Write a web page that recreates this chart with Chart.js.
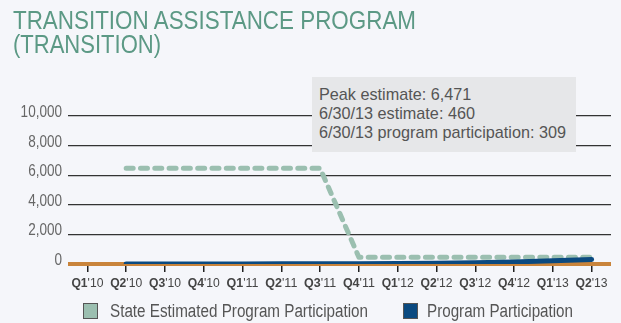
<!DOCTYPE html>
<html>
<head>
<meta charset="utf-8">
<script src="https://cdn.jsdelivr.net/npm/chart.js@4.4.1/dist/chart.umd.min.js"></script>
<style>
html, body { margin:0; padding:0; background:#f5f6fa; }
body { width:621px; height:323px; position:relative; overflow:hidden;
  font-family:"Liberation Sans",sans-serif; }
.fit { display:inline-block; white-space:nowrap; transform-origin:left top; }
#title { position:absolute; left:13px; top:8px; color:#5c9985; font-size:26.5px; line-height:24px; }
#note { position:absolute; left:312px; top:77px; width:264px; height:75px; background:#e6e7e9;
  color:#555; font-size:17px; line-height:19px; box-sizing:border-box; padding:8px 0 0 7px; }
#legend { position:absolute; top:303px; left:0; width:621px; color:#555; font-size:18px; line-height:16px; }
.item { position:absolute; top:0; white-space:nowrap; }
.sw { position:absolute; top:0; width:13px; height:14px; border:1px solid #555; }
#wrap { position:absolute; left:0; top:0; width:621px; height:323px; }
</style>
</head>
<body>
<div id="wrap"><canvas id="chart" width="621" height="323"></canvas></div>
<div id="title"><span class="fit" data-w="403">TRANSITION ASSISTANCE PROGRAM</span><br><span class="fit" data-w="148">(TRANSITION)</span></div>
<div id="note"><span class="fit" data-w="247">Peak estimate: 6,471<br>6/30/13 estimate: 460<br>6/30/13 program participation: 309</span></div>
<div id="legend"></div>
<script>

// quarters on the x axis
const quarters = ["Q1'10","Q2'10","Q3'10","Q4'10","Q1'11","Q2'11","Q3'11",
  "Q4'11","Q1'12","Q2'12","Q3'12","Q4'12","Q1'13","Q2'13"];

// state estimate (dashed) and actual participation
const stateEstimate = [null,6471,6471,6471,6471,6471,6471,460,460,460,460,460,460,460];
const participation = [null,0,2,5,8,12,18,25,35,50,80,140,220,309];

const yTicks = [0,2000,4000,6000,8000,10000];

const seriesNames = ["State Estimated Program Participation","Program Participation"];
const seriesColors = ["#9bbfb0","#0b4a80"];
const axisOrange = "#c9843b";

// legend
const legend = document.getElementById("legend");
const legendBox = [83, 403];
const legendText = [110, 427];
const legendTextW = [258, 146];
seriesNames.forEach(function(name, i){
  const sw = document.createElement("div");
  sw.className = "item sw";
  sw.style.left = legendBox[i] + "px";
  sw.style.background = seriesColors[i];
  legend.appendChild(sw);
  const item = document.createElement("div");
  item.className = "item";
  item.style.left = legendText[i] + "px";
  item.innerHTML = '<span class="fit" data-w="' + legendTextW[i] + '">' + name + '</span>';
  legend.appendChild(item);
});

// squeeze html text to a narrow face
document.querySelectorAll(".fit").forEach(function(el){
  const w = el.getBoundingClientRect().width;
  el.style.transform = "scaleX(" + (el.dataset.w / w) + ")";
});

// axis labels drawn with a condensed squeeze
const axisLabels = {
  id: "axisLabels",
  afterDraw(chart){
    const x = chart.scales.x, y = chart.scales.y;
    const c = chart.ctx;
    const bold = "bold 13px 'Liberation Sans', sans-serif";
    const reg = "13px 'Liberation Sans', sans-serif";
    c.save();
    c.fillStyle = "#444";
    c.textBaseline = "alphabetic";
    c.textAlign = "left";
    quarters.forEach(function(q, i){
      const a = q.slice(0,2), b = q.slice(2);
      c.font = bold; const wa = c.measureText(a).width;
      c.font = reg; const wb = c.measureText(b).width;
      c.save();
      c.translate(x.getPixelForTick(i), 287);
      c.scale(32 / (wa + wb), 1);
      const px = -(wa + wb) / 2;
      c.font = bold; c.fillText(a, px, 0);
      c.font = reg; c.fillText(b, px + wa, 0);
      c.restore();
    });
    c.fillStyle = "#666";
    c.font = "16.5px 'Liberation Sans', sans-serif";
    c.textAlign = "right";
    yTicks.forEach(function(v){
      c.save();
      c.translate(62, y.getPixelForValue(v) + 1);
      c.scale(0.82, 1);
      c.fillText(v.toLocaleString("en-US"), 0, 0);
      c.restore();
    });
    c.restore();
  }
};

const ctx = document.getElementById("chart").getContext("2d");

new Chart(ctx, {
  type: "line",
  data: {
    labels: quarters,
    datasets: [{
      label: seriesNames[0],
      data: stateEstimate,
      borderColor: seriesColors[0],
      borderWidth: 5,
      borderDash: [7, 7.3],
      borderCapStyle: "round",
      borderJoinStyle: "round",
      pointRadius: 0,
      fill: false,
      tension: 0,
      order: 2
    },{
      label: seriesNames[1],
      data: participation,
      borderColor: seriesColors[1],
      borderWidth: 5,
      borderCapStyle: "round",
      pointRadius: 0,
      fill: false,
      tension: 0,
      order: 1
    }]
  },
  options: {
    responsive: false,
    animation: false,
    layout: { padding: { top: 116, right: 10, left: 0, bottom: 0 } },
    plugins: { legend: { display: false }, tooltip: { enabled: false } },
    scales: {
      x: {
        offset: true,
        grid: { offset: false, drawOnChartArea: false, drawTicks: true, tickLength: 8, color: "#222", lineWidth: 1.5 },
        border: { display: false },
        ticks: { color: "rgba(0,0,0,0)", autoSkip: false, maxRotation: 0 },
        afterFit: function(s){ s.height = 59; }
      },
      y: {
        min: 0, max: 10000,
        afterBuildTicks: function(s){ s.ticks = yTicks.map(function(v){ return {value: v}; }); },
        grid: {
          drawTicks: false,
          color: function(c){ return c.tick && c.tick.value === 0 ? axisOrange : "#333"; },
          lineWidth: function(c){ return c.tick && c.tick.value === 0 ? 4 : 1.2; }
        },
        border: { display: false },
        ticks: { color: "rgba(0,0,0,0)" },
        afterFit: function(s){ s.width = 68; }
      }
    }
  },
  plugins: [axisLabels]
});
</script>
</body>
</html>
